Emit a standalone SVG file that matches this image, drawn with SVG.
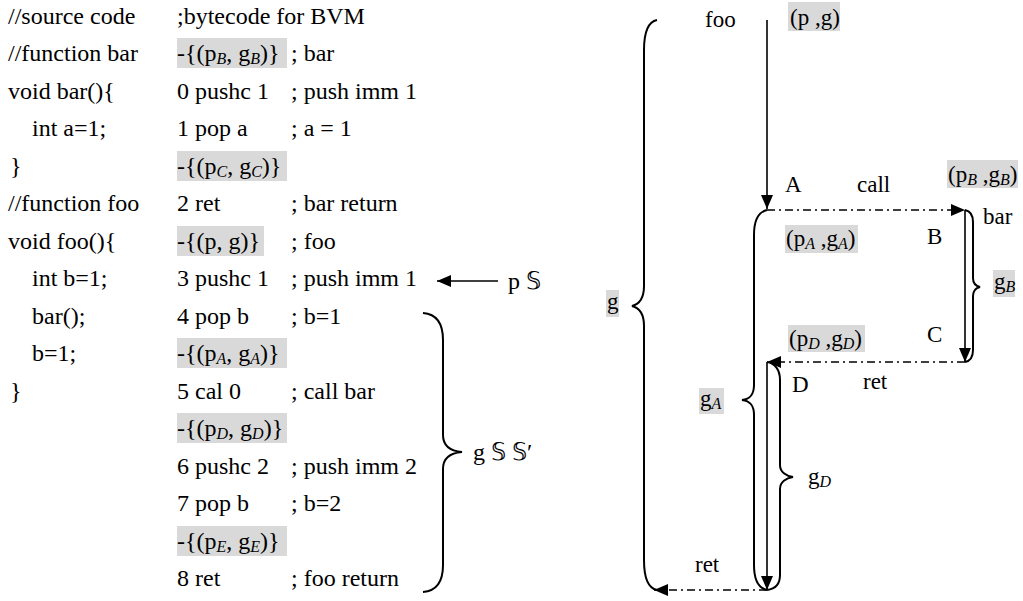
<svg xmlns="http://www.w3.org/2000/svg" width="1023" height="601" viewBox="0 0 1023 601">
<defs>
<style>
.hl{fill:#d9d9d9}
.ln{fill:none;stroke:#000;stroke-width:1.6}
.dd{fill:none;stroke:#000;stroke-width:1.6;stroke-dasharray:8 4 2 4}
.br{fill:none;stroke:#000;stroke-width:2}
</style>
<marker id="ah" viewBox="0 0 14 12" refX="14" refY="6" markerWidth="14" markerHeight="12" markerUnits="userSpaceOnUse" orient="auto">
<path d="M0,0 L14,6 L0,12 z" fill="#000"/>
</marker>
</defs>
<rect width="1023" height="601" fill="#fff"/>

<g id="code">
<rect class="hl" x="177" y="38" width="110" height="30"/>
<rect class="hl" x="177" y="151" width="110" height="30"/>
<rect class="hl" x="177" y="226" width="87" height="30"/>
<rect class="hl" x="177" y="338" width="110" height="30"/>
<rect class="hl" x="177" y="413" width="110" height="30"/>
<rect class="hl" x="177" y="526" width="110" height="30"/>
<g font-family="Liberation Serif" font-size="24">
<text x="8" y="24">//source code</text>
<text x="8" y="61">//function bar</text>
<text x="8" y="99">void bar(){</text>
<text x="32" y="136">int a=1;</text>
<text x="10" y="174">}</text>
<text x="8" y="211">//function foo</text>
<text x="8" y="249">void foo(){</text>
<text x="32" y="286">int b=1;</text>
<text x="32" y="324">bar();</text>
<text x="32" y="361">b=1;</text>
<text x="10" y="399">}</text>

<text x="177" y="24">;bytecode for BVM</text>
<text x="177" y="61">-{(p<tspan font-size="16" font-style="italic" dy="3">B</tspan><tspan dy="-3">, g</tspan><tspan font-size="16" font-style="italic" dy="3">B</tspan><tspan dy="-3">)}</tspan></text>
<text x="177" y="99">0 pushc 1</text>
<text x="177" y="136">1 pop a</text>
<text x="177" y="174">-{(p<tspan font-size="16" font-style="italic" dy="3">C</tspan><tspan dy="-3">, g</tspan><tspan font-size="16" font-style="italic" dy="3">C</tspan><tspan dy="-3">)}</tspan></text>
<text x="177" y="211">2 ret</text>
<text x="177" y="249">-{(p, g)}</text>
<text x="177" y="286">3 pushc 1</text>
<text x="177" y="324">4 pop b</text>
<text x="177" y="361">-{(p<tspan font-size="16" font-style="italic" dy="3">A</tspan><tspan dy="-3">, g</tspan><tspan font-size="16" font-style="italic" dy="3">A</tspan><tspan dy="-3">)}</tspan></text>
<text x="177" y="399">5 cal 0</text>
<text x="177" y="436">-{(p<tspan font-size="16" font-style="italic" dy="3">D</tspan><tspan dy="-3">, g</tspan><tspan font-size="16" font-style="italic" dy="3">D</tspan><tspan dy="-3">)}</tspan></text>
<text x="177" y="474">6 pushc 2</text>
<text x="177" y="511">7 pop b</text>
<text x="177" y="549">-{(p<tspan font-size="16" font-style="italic" dy="3">E</tspan><tspan dy="-3">, g</tspan><tspan font-size="16" font-style="italic" dy="3">E</tspan><tspan dy="-3">)}</tspan></text>
<text x="177" y="586">8 ret</text>

<text x="291" y="61">; bar</text>
<text x="291" y="99">; push imm 1</text>
<text x="291" y="136">; a = 1</text>
<text x="291" y="211">; bar return</text>
<text x="291" y="249">; foo</text>
<text x="291" y="286">; push imm 1</text>
<text x="291" y="324">; b=1</text>
<text x="291" y="399">; call bar</text>
<text x="291" y="474">; push imm 2</text>
<text x="291" y="511">; b=2</text>
<text x="291" y="586">; foo return</text>
</g>
</g>

<g id="p-label" font-family="Liberation Serif" font-size="24">
<text x="508" y="289">p 𝕊</text>
</g>
<g id="g-label" font-family="Liberation Serif" font-size="24">
<path class="br" d="M423,313 C436,314 443,322 443,340 L443,435 C443,446 450,451 462,452 C450,453 443,458 443,469 L443,565 C443,583 436,591 423,592"/>
<text x="473" y="460">g 𝕊 𝕊′</text>
</g>

<g id="flow-labels">
<rect class="hl" x="788" y="2" width="52" height="29"/>
<rect class="hl" x="947" y="160" width="71" height="28"/>
<rect class="hl" x="785" y="225" width="73" height="28"/>
<rect class="hl" x="993" y="270" width="22" height="27"/>
<rect class="hl" x="788" y="325" width="77" height="27"/>
<rect class="hl" x="606" y="290" width="13" height="27"/>
<rect class="hl" x="699" y="388" width="25" height="26"/>
<g font-family="Liberation Serif" font-size="23">
<text x="705" y="27">foo</text>
<text x="790" y="25">(p ,g)</text>
<text x="785" y="192">A</text>
<text x="857" y="192">call</text>
<text x="948" y="182">(p<tspan font-size="16" font-style="italic" dy="3">B</tspan><tspan dy="-3"> ,g</tspan><tspan font-size="16" font-style="italic" dy="3">B</tspan><tspan dy="-3">)</tspan></text>
<text x="983" y="224">bar</text>
<text x="927" y="244">B</text>
<text x="786" y="246">(p<tspan font-size="16" font-style="italic" dy="3">A</tspan><tspan dy="-3"> ,g</tspan><tspan font-size="16" font-style="italic" dy="3">A</tspan><tspan dy="-3">)</tspan></text>
<text x="994" y="289">g<tspan font-size="16" font-style="italic" dy="3">B</tspan></text>
<text x="927" y="342">C</text>
<text x="789" y="346">(p<tspan font-size="16" font-style="italic" dy="3">D</tspan><tspan dy="-3"> ,g</tspan><tspan font-size="16" font-style="italic" dy="3">D</tspan><tspan dy="-3">)</tspan></text>
<text x="792" y="392">D</text>
<text x="863" y="389">ret</text>
<text x="607" y="309">g</text>
<text x="700" y="406">g<tspan font-size="16" font-style="italic" dy="3">A</tspan></text>
<text x="808" y="484">g<tspan font-size="16" font-style="italic" dy="3">D</tspan></text>
<text x="695" y="572">ret</text>
</g>
</g>

<g id="braces">
<path class="br" d="M657,20 C647,22 644,35 644,50 L644,286 C644,298 640,304 632,306 C640,308 644,314 644,326 L644,560 C644,575 647,588 657,590"/>
<path class="br" d="M767,210 C758,212 754,222 754,235 L754,385 C754,395 750,399 742,400 C750,401 754,405 754,415 L754,565 C754,578 758,588 767,590"/>
<path class="br" d="M965,210 C970,211 973,215 973,222 L973,278 C973,284 976,286 980,287 C976,288 973,290 973,296 L973,350 C973,357 970,361 965,362"/>
<path class="br" d="M767,362 C775,363 780,370 780,380 L780,465 C780,472 786,476 793,477 C786,478 780,482 780,489 L780,575 C780,585 775,589 767,590"/>
</g>

<g id="connectors">
<line class="ln" x1="498" y1="281" x2="437" y2="281" marker-end="url(#ah)"/>
<line class="ln" x1="767" y1="20" x2="767" y2="209" marker-end="url(#ah)"/>
<line class="dd" x1="767" y1="210" x2="965" y2="210" marker-end="url(#ah)"/>
<line class="ln" x1="965" y1="210" x2="965" y2="362" marker-end="url(#ah)"/>
<line class="dd" x1="965" y1="362" x2="767" y2="362" marker-end="url(#ah)"/>
<line class="ln" x1="767" y1="362" x2="767" y2="590" marker-end="url(#ah)"/>
<line class="dd" x1="767" y1="590" x2="654" y2="590" marker-end="url(#ah)"/>
</g>
</svg>
